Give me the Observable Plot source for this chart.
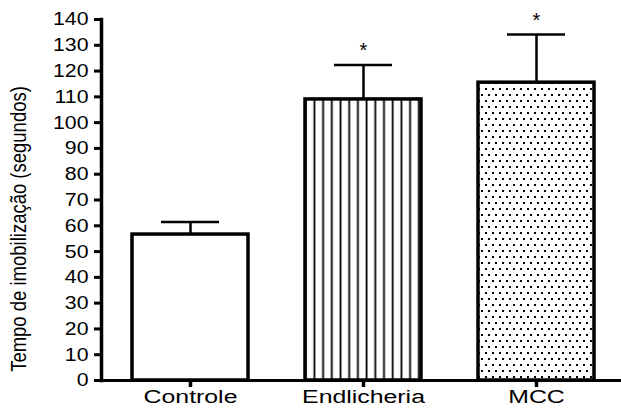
<!DOCTYPE html>
<html><head><meta charset="utf-8">
<script src="https://cdn.jsdelivr.net/npm/d3@7"></script>
<script src="https://cdn.jsdelivr.net/npm/@observablehq/plot@0.6"></script>
<style>body{margin:0;background:#fff}</style>
</head><body><div id="chart"></div>
<script>
const categories = ["Controle", "Endlicheria", "MCC"];
const means = [56.6, 109, 115.5];
const upper = [61.5, 122.4, 134.2];
const marksTxt = ["", "*", "*"];
const yTicks = d3.range(0, 141, 10);
const yTitle = "Tempo de imobilização (segundos)";
const fills = {Controle: "white", Endlicheria: "url(#vlines)", MCC: "url(#dots)"};

const data = categories.map((c, i) => ({c, mean: means[i], upper: upper[i], mark: marksTxt[i]}));

const plot = Plot.plot({
  width: 621, height: 413,
  marginLeft: 101, marginRight: 0, marginTop: 19, marginBottom: 33,
  style: {fontFamily: "Arial, 'Liberation Sans', sans-serif", fontSize: "18px", color: "#000", background: "#fff", overflow: "visible"},
  x: {domain: categories, range: [101, 624], paddingInner: 0.331, paddingOuter: 0.173, label: null},
  y: {domain: [0, 140], label: null},
  color: {type: "identity"},
  marks: [
    Plot.barY(data, {x: "c", y: "mean", fill: d => fills[d.c], stroke: "#000", strokeWidth: 3.5}),
    Plot.ruleX(data, {x: "c", y1: "mean", y2: "upper", stroke: "#000", strokeWidth: 2.5}),
    Plot.tickY(data, {x: "c", y: "upper", stroke: "#000", strokeWidth: 2.5, inset: 29}),
    Plot.text(data, {x: "c", y: "upper", text: "mark", dy: -14, fontSize: 20, fill: "#000"}),
    Plot.axisY({ticks: yTicks, tickSize: 7, strokeWidth: 3, tickPadding: 6, fontSize: 18.5, label: null}),
    Plot.axisX({tickSize: 7, strokeWidth: 3.5, tickPadding: 3, fontSize: 18, label: null}),
    Plot.ruleY([0], {stroke: "#000", strokeWidth: 3, insetLeft: -6}),
    Plot.frame({anchor: "left", stroke: "#000", strokeWidth: 3.5}),
    Plot.text([yTitle], {frameAnchor: "left", textAnchor: "middle", dx: -83, dy: 29, rotate: -90, fontSize: 18.5, fill: "#000"})
  ]
});

const svg = d3.select(plot);
const defs = svg.insert("defs", ":first-child");
const vp = defs.append("pattern").attr("id", "vlines").attr("patternUnits", "userSpaceOnUse")
  .attr("x", 310).attr("y", 0).attr("width", 8.7).attr("height", 10);
vp.append("rect").attr("width", 8.7).attr("height", 10).attr("fill", "#fff");
vp.append("rect").attr("x", 3.5).attr("width", 1.8).attr("height", 10).attr("fill", "#000");
const dp = defs.append("pattern").attr("id", "dots").attr("patternUnits", "userSpaceOnUse")
  .attr("x", 485).attr("y", 88).attr("width", 7).attr("height", 12);
dp.append("rect").attr("width", 7).attr("height", 12).attr("fill", "#fff");
dp.append("rect").attr("x", 0).attr("y", 0).attr("width", 2).attr("height", 2).attr("fill", "#000");
dp.append("rect").attr("x", 3).attr("y", 6).attr("width", 2).attr("height", 2).attr("fill", "#000");

function stretch(sel, s) {
  svg.selectAll(sel).each(function() {
    const t = this.getAttribute("transform") || "";
    this.setAttribute("transform", t + " " + s);
  });
}
stretch('g[aria-label="x-axis tick label"] text', "scale(1.38,1)");
stretch('g[aria-label="y-axis tick label"] text', "scale(1.15,1)");
stretch('g[aria-label="text"] text', "");
svg.selectAll('g[aria-label="text"] text').filter(function() { return this.textContent === yTitle; })
  .each(function() {
    const t = this.getAttribute("transform") || "";
    this.setAttribute("transform", t + " scale(1,1.2)");
  });

document.getElementById("chart").append(plot);
</script>
</body></html>
